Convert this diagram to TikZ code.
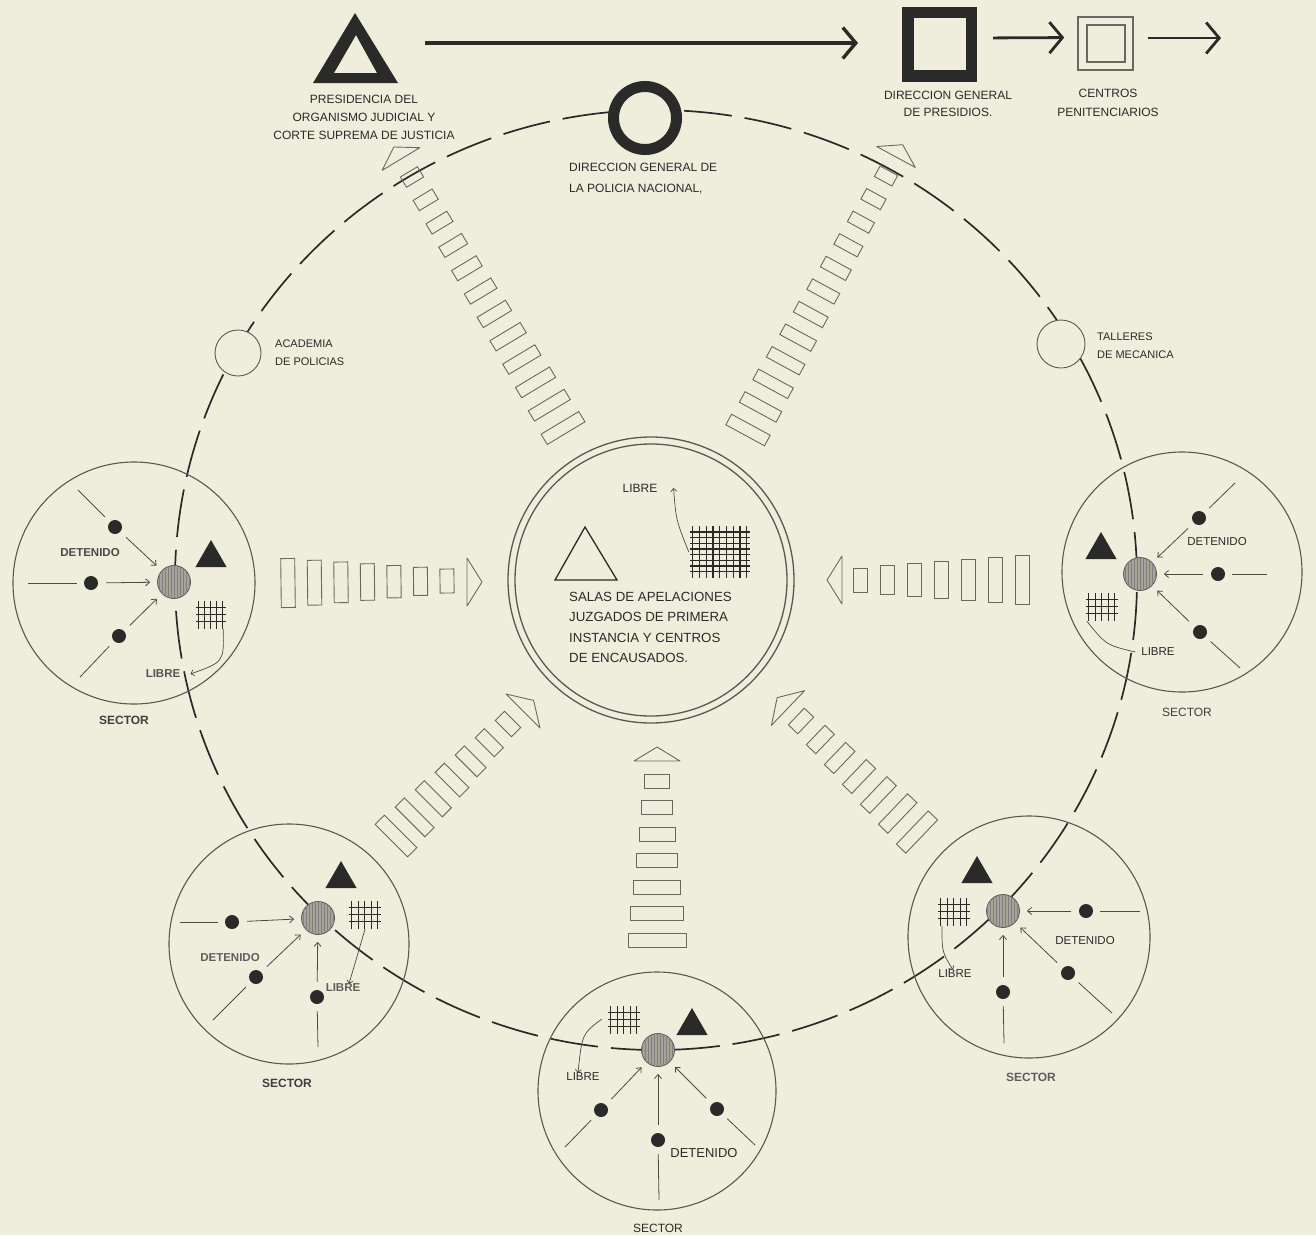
\documentclass[tikz,border=0pt]{standalone}
\usepackage{fontspec}
\setmainfont{Liberation Sans}
\usetikzlibrary{arrows.meta,calc,patterns,shapes.geometric}
\definecolor{bg}{RGB}{239,238,221}
\definecolor{ink}{RGB}{42,42,40}
\definecolor{rectc}{RGB}{105,105,100}
\definecolor{hubc}{RGB}{168,163,152}
\definecolor{circc}{RGB}{88,88,84}
\tikzset{
  lbl/.style={font=\fontsize{12}{18}\selectfont, text=ink, inner sep=0pt},
  seclbl/.style={font=\fontsize{11.5}{14}\selectfont, text=ink, inner sep=0pt},
  sectorlbl/.style={font=\fontsize{12}{14}\selectfont\bfseries, text=ink!90, inner sep=0pt},
  flowrect/.style={draw=rectc, line width=0.9pt, inner sep=0pt},
  flowline/.style={draw=rectc, line width=0.9pt, line join=round},
  hub/.style={circle, draw=circc, line width=0.8pt, fill=hubc, minimum size=33pt, inner sep=0pt,
     postaction={pattern=vertical lines, pattern color=black!50}},
  dotnode/.style={circle, fill=ink, minimum size=14pt, inner sep=0pt},
  tri/.style={regular polygon, regular polygon sides=3, fill=ink, minimum size=36pt, inner sep=0pt},
  secring/.style={circle, draw=circc, line width=1.1pt, inner sep=0pt},
  secarrow/.style={draw=ink!85, line width=0.8pt, -{Straight Barb[length=4pt,width=7pt]}, shorten <=8pt, shorten >=7pt},
  secline/.style={draw=ink!85, line width=0.8pt, shorten >=7pt},
  jailline/.style={draw=ink, line width=1.2pt},
  libarrow/.style={draw=ink!85, line width=0.7pt, -{Straight Barb[length=3pt,width=6pt]}},
  toparrow/.style={draw=ink, line width=3.4pt, -{Straight Barb[length=13pt,width=31pt]}},
}
\newcommand\flowstream[9]{%
  \pgfmathsetmacro\fang{atan2(-(#5-#3),(#4-#2))}%
  \foreach \i in {0,...,#6}{%
    \pgfmathsetmacro\ft{\i/#6}%
    \pgfmathsetmacro\fw{#7+(#8-#7)*\ft}%
    \node[flowrect, minimum width=#9pt, minimum height=\fw pt, rotate=\fang] (#1-\i) at ($(#2,#3)!\ft!(#4,#5)$) {};
  }%
}
\newcommand\flowhead[6]{%
  \coordinate (#1) at (#2,#3);
  \draw[flowline, shift={(#2,#3)}, rotate=#4] (0,#6) -- (#5,0) -- (0,-#6) -- cycle;
}
\newcommand\jail[7]{%
  \node[inner sep=0pt, minimum width=#4pt, minimum height=#5pt] (#1) at (#2,#3) {};
  \foreach \k in {0,...,#6} \draw[jailline] ($(#1.north west)+({\k*#4/#6},0)$) -- ($(#1.south west)+({\k*#4/#6},0)$);
  \foreach \k in {1,...,#7} \draw[jailline] ($(#1.north west)+(-3,{\k*#5/(#7+1)})$) -- ($(#1.north east)+(3,{\k*#5/(#7+1)})$);
}
\begin{document}
\begin{tikzpicture}[x=1pt,y=-1pt]
\path[use as bounding box] (0,0) rectangle (1316,1235);
\fill[bg] (0,0) rectangle (1316,1235);

% big dashed ring
\node[ellipse, draw=ink, line width=1.7pt, dash pattern=on 48pt off 13pt, minimum width=962pt, minimum height=940pt, inner sep=0pt] (ring) at (656,580) {};

% top row
\node[minimum width=85pt, minimum height=80pt, inner sep=0pt] (presid) at (355.5,43) {};
\fill[ink, even odd rule] (313,83) -- (355,13) -- (398,83) -- cycle (334,73) -- (356,35) -- (377,73) -- cycle;
\node[lbl, align=center] (presidtxt) at (364,117) {PRESIDENCIA DEL\\ORGANISMO JUDICIAL Y\\CORTE SUPREMA DE JUSTICIA};
\node[draw=ink, line width=11.5pt, minimum size=63.5pt, inner sep=0pt] (presidios) at (939.5,44) {};
\node[lbl, align=center, font=\fontsize{12}{17}\selectfont] (presidiostxt) at (948,103.5) {DIRECCION GENERAL\\DE PRESIDIOS.};
\node[draw=rectc, line width=1.5pt, minimum width=55pt, minimum height=53pt, inner sep=0pt] (centros) at (1105.5,43.5) {};
\node[draw=rectc, line width=1.5pt, minimum width=38pt, minimum height=37pt, inner sep=0pt] (centrosin) at (1106,43.5) {};
\node[lbl, align=center, font=\fontsize{12}{19}\selectfont] (centrostxt) at (1108,102.5) {CENTROS\\PENITENCIARIOS};
\coordinate (freeend) at (1221,38);
\draw[toparrow, shorten <=27pt, shorten >=44pt] (presid.east) -- (presid.east -| presidios.west);
\draw[toparrow, line width=2.8pt, shorten <=16pt, shorten >=13pt] ([yshift=6pt]presidios.east) -- ([yshift=6pt]centros.west);
\draw[toparrow, line width=2.8pt, shorten <=14pt] ([yshift=5.5pt]centros.east) -- (freeend);

% policia ring
\node[circle, draw=ink, fill=bg, line width=11pt, minimum size=63pt, inner sep=0pt] (pol) at (645,118) {};
\node[lbl, align=left, anchor=west, font=\fontsize{12}{21}\selectfont] (poltxt) at (569,178.5) {DIRECCION GENERAL DE\\LA POLICIA NACIONAL,};

% academia / talleres
\node[circle, draw=circc, fill=bg, line width=0.9pt, minimum size=46pt, inner sep=0pt] (acad) at (238,353) {};
\node[lbl, align=left, anchor=west, font=\fontsize{11}{18}\selectfont] (acadtxt) at (275,353) {ACADEMIA\\DE POLICIAS};
\node[circle, draw=circc, fill=bg, line width=0.9pt, minimum size=48pt, inner sep=0pt] (tall) at (1061,344) {};
\node[lbl, align=left, anchor=west, font=\fontsize{11}{18}\selectfont] (talltxt) at (1097,346) {TALLERES\\DE MECANICA};

% centre
\node[circle, draw=circc, line width=1.3pt, minimum size=286pt, inner sep=0pt] (cen) at (651,580) {};
\node[circle, draw=circc, line width=1.3pt, minimum size=272pt, inner sep=0pt] (cenin) at (651,580) {};
\draw[ink, line width=1.3pt, line join=miter] (555,580) -- (585,527) -- (617,580) -- cycle;
\jail{g0}{720}{552}{54}{51}{8}{8}
\node[lbl] (lib0) at (640,488) {LIBRE};
\draw[libarrow] ([xshift=-4pt]g0.west) .. controls (676,520) .. ([xshift=16pt]lib0.east);
\node[lbl, align=left, anchor=west, font=\fontsize{13.3}{20.3}\selectfont] (centxt) at (569,627.5) {SALAS DE APELACIONES\\JUZGADOS DE PRIMERA\\INSTANCIA Y CENTROS\\DE ENCAUSADOS.};

% flow streams
\flowstream{fl}{288}{583}{447}{581}{6}{49}{24}{14}
\flowhead{hl}{467}{582}{0}{15}{24}
\flowstream{fr}{1022}{580}{860}{580}{6}{49}{24}{14}
\flowhead{hr}{842}{580}{180}{15}{24}
\flowstream{fb}{657}{940}{657}{781}{6}{58}{25}{14}
\flowhead{hb}{657}{761}{90}{14}{23}
\flowstream{fbl}{396}{836}{508}{724}{6}{46}{23}{13}
\flowhead{hbl}{523}{711}{45}{15}{24}
\flowstream{fbr}{917}{832}{801}{721}{6}{46}{23}{13}
\flowhead{hbr}{788}{708}{136.3}{15}{24}
\flowstream{ftl}{563}{428}{412}{177}{11}{44}{20}{12}
\flowhead{htl}{401}{159}{121}{14}{22}
\flowstream{ftr}{748}{430}{886}{176}{11}{44}{20}{12}
\flowhead{htr}{896}{157}{61.5}{14}{22}

% ---- sector 1 (left)
\node[secring, minimum size=242pt] (s1) at (134,583) {};
\node[hub] (h1) at (174,582) {};
\node[tri] (t1) at (211,558) {};
\jail{g1}{211}{615}{24}{28}{4}{3}
\node[dotnode] (d1a) at (115,527) {};
\node[dotnode] (d1b) at (91,583) {};
\node[dotnode] (d1c) at (119,636) {};
\coordinate (o1a) at (78,490); \coordinate (o1b) at (28,583); \coordinate (o1c) at (80,677);
\foreach \d in {a,b,c}{\draw[secline] (o1\d) -- (d1\d); \draw[secarrow] (d1\d) -- (h1);}
\node[seclbl, font=\fontsize{11.5}{14}\selectfont\bfseries, text=ink!85] (det1) at (90,553) {DETENIDO};
\node[seclbl, font=\fontsize{11.5}{14}\selectfont\bfseries, text=ink!80] (lib1) at (163,674) {LIBRE};
\draw[libarrow] (g1.south east) .. controls (224,662) .. ([xshift=10pt]lib1.east);
\node[sectorlbl] (sec1) at (124,720) {SECTOR};

% ---- sector 2 (right)
\node[secring, minimum size=240pt] (s2) at (1182,572) {};
\node[hub] (h2) at (1140,574) {};
\node[tri] (t2) at (1101,550) {};
\jail{g2}{1102}{607}{26}{28}{4}{3}
\node[dotnode] (d2a) at (1199,518) {};
\node[dotnode] (d2b) at (1218,574) {};
\node[dotnode] (d2c) at (1200,632) {};
\coordinate (o2a) at (1235,483); \coordinate (o2b) at (1267,574); \coordinate (o2c) at (1240,668);
\foreach \d in {a,b,c}{\draw[secline] (o2\d) -- (d2\d); \draw[secarrow] (d2\d) -- (h2);}
\node[seclbl] (det2) at (1217,542) {DETENIDO};
\node[seclbl] (lib2) at (1158,652) {LIBRE};
\draw[draw=ink!85, line width=0.7pt] ([xshift=-2pt]g2.south west) .. controls (1106,645) .. ([xshift=-6pt]lib2.west);
\node[sectorlbl, font=\fontsize{12}{14}\selectfont] (sec2) at (1187,712) {SECTOR};

% ---- sector 3 (bottom left)
\node[secring, minimum size=240pt] (s3) at (289,944) {};
\node[hub] (h3) at (318,918) {};
\node[tri] (t3) at (341,879) {};
\jail{g3}{365}{915}{26}{28}{4}{3}
\node[dotnode] (d3a) at (232,922) {};
\node[dotnode] (d3b) at (256,977) {};
\node[dotnode] (d3c) at (317,997) {};
\coordinate (o3a) at (180,922); \coordinate (o3b) at (213,1020); \coordinate (o3c) at (318,1047);
\foreach \d in {a,b,c}{\draw[secline] (o3\d) -- (d3\d); \draw[secarrow] (d3\d) -- (h3);}
\node[seclbl, font=\fontsize{11.5}{14}\selectfont\bfseries, text=ink!75] (det3) at (230,958) {DETENIDO};
\node[seclbl, font=\fontsize{11.5}{14}\selectfont\bfseries, text=ink!75] (lib3) at (343,988) {LIBRE};
\draw[libarrow] (g3.south) -- ([xshift=6pt]lib3.north);
\node[sectorlbl] (sec3) at (287,1083) {SECTOR};

% ---- sector 4 (bottom)
\node[secring, minimum size=238pt] (s4) at (657,1091) {};
\node[hub] (h4) at (658,1050) {};
\node[tri] (t4) at (692,1026) {};
\jail{g4}{624}{1020}{26}{28}{4}{3}
\node[dotnode] (d4a) at (601,1110) {};
\node[dotnode] (d4b) at (658,1140) {};
\node[dotnode] (d4c) at (717,1109) {};
\coordinate (o4a) at (565,1147); \coordinate (o4b) at (659,1200); \coordinate (o4c) at (755,1145);
\foreach \d in {a,b,c}{\draw[secline] (o4\d) -- (d4\d); \draw[secarrow] (d4\d) -- (h4);}
\node[seclbl, font=\fontsize{13}{14}\selectfont] (det4) at (704,1153) {DETENIDO};
\node[seclbl] (lib4) at (583,1077) {LIBRE};
\draw[libarrow] ([xshift=-9pt,yshift=1pt]g4.west) .. controls (582,1034) .. ([xshift=-5pt]lib4.north);
\node[seclbl, font=\fontsize{12}{14}\selectfont] (sec4) at (658,1228) {SECTOR};

% ---- sector 5 (bottom right)
\node[secring, minimum size=242pt] (s5) at (1029,937) {};
\node[hub] (h5) at (1003,911) {};
\node[tri] (t5) at (977,874) {};
\jail{g5}{954}{912}{26}{28}{4}{3}
\node[dotnode] (d5a) at (1086,911) {};
\node[dotnode] (d5b) at (1068,973) {};
\node[dotnode] (d5c) at (1003,992) {};
\coordinate (o5a) at (1140,911); \coordinate (o5b) at (1112,1013); \coordinate (o5c) at (1004,1043);
\foreach \d in {a,b,c}{\draw[secline] (o5\d) -- (d5\d); \draw[secarrow] (d5\d) -- (h5);}
\node[seclbl] (det5) at (1085,941) {DETENIDO};
\node[seclbl] (lib5) at (955,974) {LIBRE};
\draw[libarrow] ([xshift=-12pt]g5.south) .. controls (942,952) .. ([xshift=-2pt]lib5.north);
\node[sectorlbl, text=ink!75] (sec5) at (1031,1077) {SECTOR};
\end{tikzpicture}
\end{document}
